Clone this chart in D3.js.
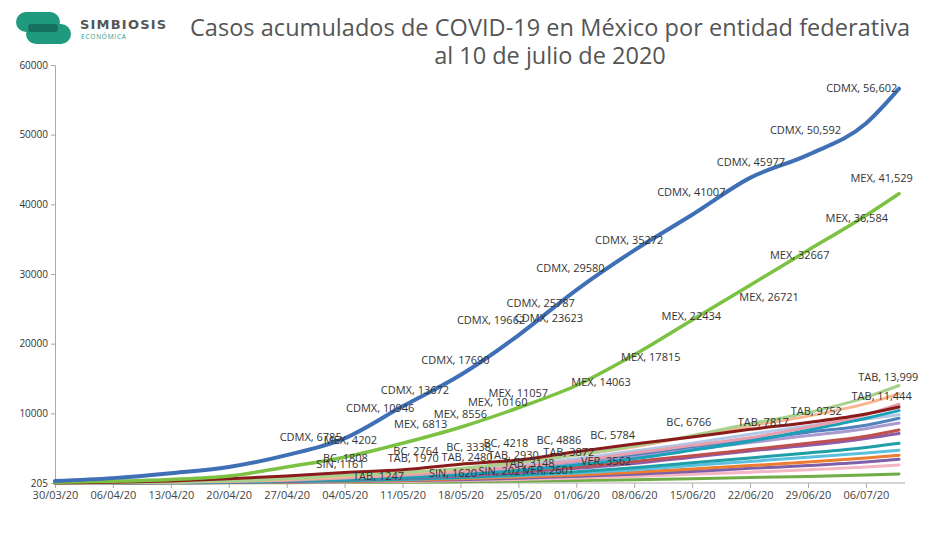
<!DOCTYPE html>
<html><head><meta charset="utf-8">
<script src="https://cdn.jsdelivr.net/npm/d3@7"></script>
<style>body{margin:0;background:#fff;font-family:"Open Sans",sans-serif}</style>
</head><body><div class="forSvg"></div>
<script>
// weekly sample dates
const dates=["30/03/20","06/04/20","13/04/20","20/04/20","27/04/20","04/05/20","11/05/20","18/05/20","25/05/20","01/06/20","08/06/20","15/06/20","22/06/20","29/06/20","06/07/20","10/07/20"];
const tickDates=dates.slice(0,15);
const yTickVals=[0,10000,20000,30000,40000,50000,60000];
const yTickLabels=["205","10000","20000","30000","40000","50000","60000"];

const cdmx=[300,700,1400,2300,4000,6400,11000,15500,21200,27700,33400,38500,43800,47100,51600,56602];
const mex=[100,250,500,1000,2300,3700,5700,8000,10800,14000,18400,23400,28400,33400,38400,41529];
const bc=[0,100,300,600,1000,1500,1900,2700,3300,4500,5600,6600,7700,8700,9900,10900];
const tab=[0,50,150,300,600,1100,1500,2100,3000,4000,5300,6800,8500,10100,12300,13999];
const peach=[0,50,150,300,500,900,1400,2000,2900,4000,5200,6700,8200,9600,11400,12800];
const pink=[0,50,100,200,400,700,1100,1600,2300,3200,4300,5400,6500,8000,9800,11300];
const teal=[0,30,80,150,300,500,800,1200,1800,2600,3500,4700,6000,7600,9300,10400];
const lightBlue=[0,60,200,400,700,1000,1400,1900,2600,3500,4600,5700,7000,8200,9200,9800];
const blue=[0,50,150,300,500,800,1200,1700,2400,3200,4100,5200,6200,7300,8300,9300];
const lavender=[0,30,100,200,400,700,1000,1500,2100,2800,3800,4800,5800,6800,7800,8600];
const red=[0,30,80,150,300,500,800,1200,1700,2300,3100,3900,4800,5700,6700,7600];
const purple=[0,20,60,120,250,450,700,1000,1500,2100,2800,3700,4600,5400,6400,7100];
const teal2=[0,20,50,100,200,350,550,800,1150,1600,2200,2900,3600,4300,5100,5700];
const sky=[0,20,50,100,200,330,500,750,1050,1450,1900,2500,3100,3700,4300,4700];
const orange=[0,20,40,80,150,250,400,600,850,1150,1550,2000,2500,3000,3600,4000];
const purple2=[0,10,30,60,120,200,320,480,680,950,1250,1650,2100,2500,3000,3400];
const pink2=[0,10,20,40,80,140,230,350,500,700,950,1250,1550,1900,2300,2600];
const green=[0,5,10,20,40,70,110,170,250,350,480,620,780,950,1150,1300];

const series=[
 {v:green,c:"#70ad47"},{v:pink2,c:"#f4b6c2"},{v:purple2,c:"#7f5fa8"},{v:orange,c:"#ed7d31"},
 {v:sky,c:"#5bc0de"},{v:teal2,c:"#1f9ea8"},{v:purple,c:"#8e5ba8"},{v:red,c:"#c0504d"},
 {v:lavender,c:"#a99bd0"},{v:blue,c:"#4f81bd"},{v:lightBlue,c:"#b4c7e7"},{v:teal,c:"#17a2b8"},
 {v:pink,c:"#e6a0ad"},{v:peach,c:"#f8b58f"},{v:tab,c:"#a9d18e"},{v:bc,c:"#8b1a1a"},
 {v:mex,c:"#7cc242",w:3.5},{v:cdmx,c:"#3f6fb5",w:4}
];

// [text, day offset from 30/03, value at text centre]
const labels=[
 ["CDMX, 56,602",97.5,56670],["CDMX, 50,592",90.7,50650],["CDMX, 45977",84.1,46050],["CDMX, 41007",76.9,41750],
 ["CDMX, 35272",69.4,34860],["CDMX, 29580",62.3,30850],["CDMX, 25787",58.7,25820],["CDMX, 23623",59.7,23670],
 ["CDMX, 19662",52.7,23390],["CDMX, 17690",48.4,17650],["CDMX, 13672",43.5,13340],["CDMX, 10946",39.3,10760],
 ["CDMX, 6785",30.9,6600],["MEX, 41,529",99.9,43760],["MEX, 36,584",96.9,38020],["MEX, 32667",90,32710],
 ["MEX, 26721",86.3,26690],["MEX, 22434",76.9,23960],["MEX, 17815",72,18080],["MEX, 14063",66,14490],
 ["MEX, 11057",56,12910],["MEX, 10160",53.5,11620],["MEX, 8556",49,9900],["MEX, 6813",44.2,8460],
 ["MEX, 4202",35.7,6170],["BC, 1808",35.1,3590],["SIN, 1161",34.5,2730],["BC, 2764",43.6,4590],
 ["TAB, 1970",43.3,3590],["BC, 3338",50,5170],["TAB, 2480",49.8,3730],["BC, 4218",54.5,5740],
 ["TAB, 2930",55.4,4020],["BC, 4886",60.9,6170],["BC, 5784",67.4,6890],["BC, 6766",76.6,8750],
 ["TAB, 7817",85.6,8750],["TAB, 9752",92,10330],["TAB, 11,444",99.9,12480],["TAB, 13,999",100.7,15210],
 ["TAB, 3872",62.1,4450],["TAB, 3148",57.3,2870],["VER, 3562",66.6,3160],["VER, 2601",59.7,1870],
 ["SIN, 2021",54.1,1720],["SIN, 1620",48.1,1430],["TAB, 1247",39.1,1000]
];

const w=938,h=533;
const svg=d3.select(".forSvg").append("svg").attr("width",w).attr("height",h);
const parse=d3.timeParse("%d/%m/%y");
const x=d3.scaleTime().domain([parse("30/03/20"),parse("10/07/20")]).range([55,899]);
const y=d3.scaleLinear().domain([0,60000]).range([483,65]);

// logo
const logo=svg.append("g");
logo.append("rect").attr("x",16).attr("y",12).attr("width",44).attr("height",20).attr("rx",10).attr("fill","#1f9a7f");
logo.append("rect").attr("x",26).attr("y",24).attr("width",45).attr("height",20).attr("rx",10).attr("fill","#1f9a7f");
logo.append("rect").attr("x",28).attr("y",24).attr("width",30).attr("height",8).attr("rx",3).attr("fill","#17705f");
logo.append("text").attr("x",80).attr("y",29).text("SIMBIOSIS").attr("font-family","DejaVu Sans").attr("font-weight","bold").attr("font-size",13).attr("letter-spacing",1.2).attr("fill","#555");
logo.append("text").attr("x",81).attr("y",39).text("ECONÓMICA").attr("font-size",6.5).attr("letter-spacing",0.8).attr("fill","#1f9a7f");

svg.append("text").attr("x",550).attr("y",36).attr("text-anchor","middle").attr("font-size",23.5).attr("textLength",720).attr("fill","#555").text("Casos acumulados de COVID-19 en México por entidad federativa");
svg.append("text").attr("x",550).attr("y",64).attr("text-anchor","middle").attr("font-size",23.5).attr("fill","#555").text("al 10 de julio de 2020");

// axes
const xa=svg.append("g").attr("transform","translate(0,483)")
 .call(d3.axisBottom(x).tickValues(tickDates.map(parse)).tickFormat(d3.timeFormat("%d/%m/%y")).tickSizeOuter(0).tickSize(5));
xa.select(".domain").attr("d","M55,0H905").attr("stroke","#aaa");
xa.selectAll(".tick line").attr("stroke","#aaa");
xa.selectAll("text").attr("font-size",11).attr("fill","#444").attr("font-family","Open Sans");
const ya=svg.append("g").attr("transform","translate(55,0)")
 .call(d3.axisLeft(y).tickValues(yTickVals).tickFormat((d,i)=>yTickLabels[i]).tickSize(4));
ya.select(".domain").attr("stroke","#aaa");
ya.selectAll(".tick line").attr("stroke","#aaa");
ya.selectAll("text").attr("font-size",10).attr("fill","#333").attr("font-family","Open Sans");

const line=d3.line().x((d,i)=>x(parse(dates[i]))).y(d=>y(d)).curve(d3.curveMonotoneX);
svg.append("g").selectAll("path").data(series).join("path")
 .attr("d",d=>line(d.v)).attr("fill","none").attr("stroke",d=>d.c).attr("stroke-width",d=>d.w||3).attr("stroke-linecap","round");

const day0=parse("30/03/20");
const perDay=x(d3.timeDay.offset(day0,1))-x(day0);
svg.append("g").selectAll("text").data(labels).join("text")
 .attr("x",d=>x(day0)+perDay*d[1])
 .attr("y",d=>y(d[2])+4).attr("text-anchor","middle")
 .attr("font-size",11).attr("fill","#333").attr("font-family","Open Sans").text(d=>d[0]);
</script></body></html>
